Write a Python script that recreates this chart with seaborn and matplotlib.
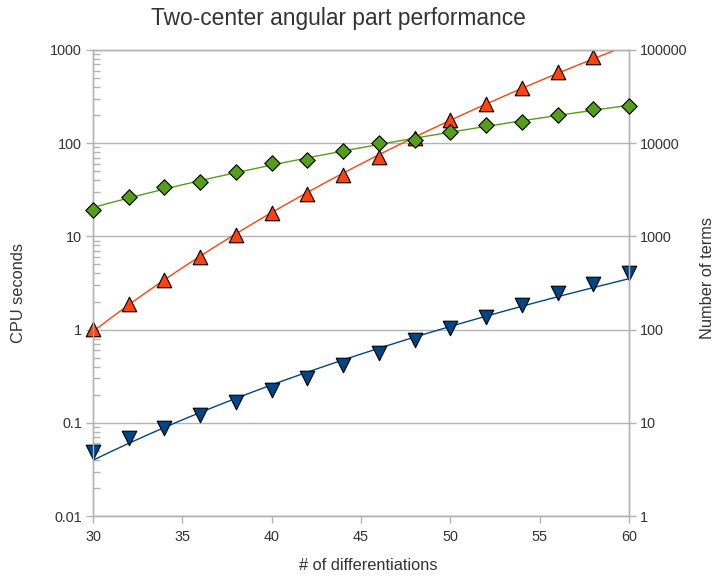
import numpy as np
import pandas as pd
import matplotlib
matplotlib.use("Agg")
import matplotlib.pyplot as plt
import seaborn as sns
from matplotlib.ticker import LogLocator, FixedLocator, NullFormatter, FuncFormatter

# ---- data ----
diffs = [30, 32, 34, 36, 38, 40, 42, 44, 46, 48, 50, 52, 54, 56, 58, 60]
cpu_blue = [0.049, 0.069, 0.089, 0.122, 0.169, 0.227, 0.305, 0.42, 0.567, 0.78,
            1.05, 1.38, 1.85, 2.5, 3.1, 4.0]
cpu_red = [1.02, 1.89, 3.41, 6.07, 10.4, 17.7, 28.6, 46.0, 71.8, 114, 178, 264,
           392, 577, 850]
terms_green = [1940, 2670, 3400, 3800, 4880, 6090, 6600, 8200, 10000, 10800,
               13300, 15700, 16800, 19900, 23100, 25100]

left_ticks = [0.01, 0.1, 1, 10, 100, 1000]
right_ticks = [1, 10, 100, 1000, 10000, 100000]
x_ticks = [30, 35, 40, 45, 50, 55, 60]

BLUE = "#004586"
RED = "#ff420e"
GREEN = "#579d1c"
GRID = "#b3b3b3"
TXT = "#333333"

sns.set_theme(style="white")
plt.rcParams["font.family"] = ["Liberation Sans", "DejaVu Sans"]

fig = plt.figure(figsize=(7.16, 5.79), dpi=100)
ax = fig.add_axes([93/716, 1-516/579, (629-93)/716, (516-50)/579])
ax2 = ax.twinx()

def power_fit(x, y):
    x = np.asarray(x, float); y = np.asarray(y, float)
    b, a = np.polyfit(np.log(x), np.log(y), 1)
    xs = np.linspace(30, 60, 200)
    return xs, np.exp(a) * xs ** b

df_b = pd.DataFrame({"x": diffs, "y": cpu_blue})
df_r = pd.DataFrame({"x": diffs[:len(cpu_red)], "y": cpu_red})
df_g = pd.DataFrame({"x": diffs, "y": terms_green})

for d, col, ax_ in [(df_b, BLUE, ax), (df_r, RED, ax), (df_g, GREEN, ax2)]:
    xs, ys = power_fit(d["x"], d["y"])
    sns.lineplot(x=xs, y=ys, ax=ax_, color=col, lw=1.0, zorder=3)

sns.scatterplot(data=df_g, x="x", y="y", ax=ax2, marker="D", s=62, color=GREEN,
                edgecolor="black", linewidth=0.8, zorder=4)
sns.scatterplot(data=df_r, x="x", y="y", ax=ax, marker="^", s=110, color=RED,
                edgecolor="black", linewidth=0.8, zorder=4)
sns.scatterplot(data=df_b, x="x", y="y", ax=ax, marker="v", s=110, color=BLUE,
                edgecolor="black", linewidth=0.8, zorder=4)
for a in (ax, ax2):
    for c in a.collections:
        c.set_clip_on(False)

for a in (ax, ax2):
    a.set_yscale("log")
    a.set_xlim(30, 60)
    a.set_xlabel("")
    a.set_ylabel("")
    for s in a.spines.values():
        s.set_color(GRID)
        s.set_linewidth(1.0)
    a.set_facecolor("none")
ax.set_ylim(0.01, 1000)
ax2.set_ylim(1, 100000)
ax.set_zorder(2)
ax2.set_zorder(3)

ax.yaxis.set_major_locator(FixedLocator(left_ticks))
ax.yaxis.set_minor_locator(LogLocator(base=10, subs=np.arange(2, 10)))
ax.yaxis.set_minor_formatter(NullFormatter())
ax.yaxis.set_major_formatter(FuncFormatter(lambda v, p: f"{v:g}"))
ax2.yaxis.set_major_locator(FixedLocator(right_ticks))
ax2.yaxis.set_minor_locator(FixedLocator([]))
ax2.yaxis.set_major_formatter(FuncFormatter(lambda v, p: f"{v:g}" if v < 1e5 else "100000"))
ax.xaxis.set_major_locator(FixedLocator(x_ticks))

ax.grid(True, axis="y", which="major", color=GRID, lw=1.0)
ax.tick_params(axis="y", which="major", direction="out", length=5, width=1,
               color=GRID, labelsize=10.4, labelcolor=TXT, pad=3, left=True)
ax.tick_params(axis="y", which="minor", direction="in", length=5, width=1,
               color=GRID, left=True)
ax.tick_params(axis="x", which="major", direction="out", length=5, width=1,
               color=GRID, labelsize=10.4, labelcolor=TXT, pad=5, bottom=True)
ax2.tick_params(axis="y", which="major", direction="out", length=5, width=1,
                color=GRID, labelsize=10.4, labelcolor=TXT, pad=3, right=True)

fig.text(338/716, 1-18/579, "Two-center angular part performance", ha="center",
         va="center", fontsize=16.4, color=TXT)
fig.text(19/716, 1-293/579, "CPU seconds", rotation=90, ha="center", va="center",
         fontsize=11.8, color=TXT)
fig.text(707/716, 1-278/579, "Number of terms", rotation=90, ha="center",
         va="center", fontsize=11.8, color=TXT)
fig.text(368/716, 1-566/579, "# of differentiations", ha="center", va="center",
         fontsize=11.8, color=TXT)

fig.savefig("out.png", dpi=100, facecolor="white")
